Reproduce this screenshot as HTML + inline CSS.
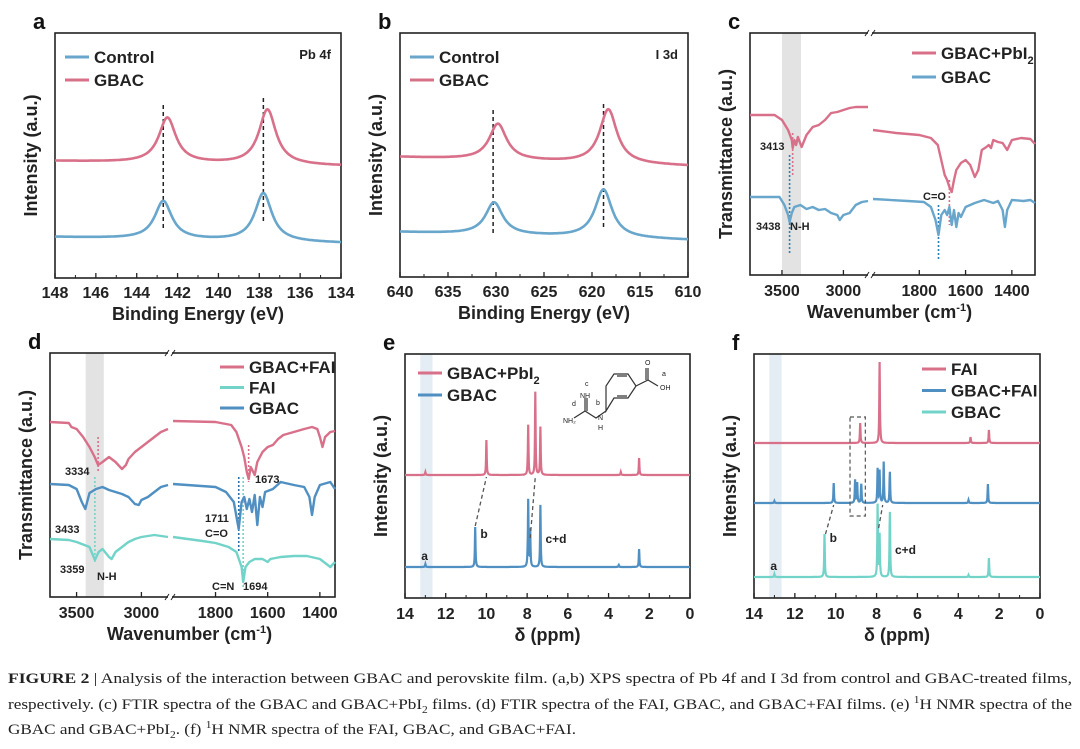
<!DOCTYPE html>
<html><head><meta charset="utf-8"><style>
body{margin:0;background:#fff;}
svg{display:block;font-family:"Liberation Sans",Arial,sans-serif;}
.tk{font-size:16px;font-weight:bold;fill:#222;text-anchor:middle;}
.at{font-size:18px;font-weight:bold;fill:#222;text-anchor:middle;}
.lg{font-size:17px;font-weight:bold;fill:#222;}
.pl{font-size:22px;font-weight:bold;fill:#111;}
.an{font-size:11px;font-weight:bold;fill:#222;}
.cap{font-family:"Liberation Serif",serif;font-size:15px;fill:#222;}
</style></head><body>
<svg id="fig" width="1080" height="749" viewBox="0 0 1080 749">
<g id="caption">
<text class="cap" x="8" y="683" textLength="1064" lengthAdjust="spacingAndGlyphs"><tspan font-weight="bold">FIGURE 2</tspan> | Analysis of the interaction between GBAC and perovskite film. (a,b) XPS spectra of Pb 4f and I 3d from control and GBAC-treated films,</text>
<text class="cap" x="8" y="709" textLength="1064" lengthAdjust="spacingAndGlyphs">respectively. (c) FTIR spectra of the GBAC and GBAC+PbI<tspan font-size="10" dy="4">2</tspan><tspan dy="-4"> films. (d) FTIR spectra of the FAI, GBAC, and GBAC+FAI films. (e) </tspan><tspan font-size="10" dy="-6">1</tspan><tspan dy="6">H NMR spectra of the</tspan></text>
<text class="cap" x="8" y="734" textLength="568" lengthAdjust="spacingAndGlyphs">GBAC and GBAC+PbI<tspan font-size="10" dy="4">2</tspan><tspan dy="-4">. (f) </tspan><tspan font-size="10" dy="-6">1</tspan><tspan dy="6">H NMR spectra of the FAI, GBAC, and GBAC+FAI.</tspan></text>
</g>
</svg>
<script>
const NS="http://www.w3.org/2000/svg";
const svg=document.getElementById('fig');
const RED="#d9708a", BLUE="#68a6cc", DBLUE="#4f8fc2", CYAN="#72d3c9";

// ---------- DATA ----------
const aControlPeaks=[[142.7,38],[137.8,48]];
const aGbacPeaks=[[142.5,45],[137.6,55]];
const aBaseline={control:[41,35],gbac:[117,112]};
const aTicks=[148,146,144,142,140,138,136,134];
const aDashes=[142.7,137.8];
const bControlPeaks=[[630.2,32],[618.8,48]];
const bGbacPeaks=[[629.8,36],[618.3,54]];
const bBaseline={control:[45,37],gbac:[120,111]};
const bTicks=[640,635,630,625,620,615,610];
const bDashes=[630.3,618.8];
const cWnLeft=[3760,3560,3500,3450,3420,3413,3400,3385,3370,3340,3300,3250,3200,3150,3100,3050,3000,2950,2900,2800];
const cRedLeft=[160,160,155,145,135,127,135,130,138,128,140,148,150,155,162,163,165,167,168,168];
const cBlueLeftWn=[3760,3520,3480,3450,3438,3420,3400,3350,3300,3250,3200,3150,3100,3050,3030,3000,2950,2900,2850,2800];
const cBlueLeft=[78,78,70,60,53,62,68,70,66,68,65,66,62,60,55,60,62,70,73,74];
const cRedRightWn=[2000,1900,1800,1750,1720,1700,1690,1680,1670,1660,1650,1640,1620,1600,1580,1560,1545,1530,1510,1500,1490,1480,1460,1440,1420,1410,1400,1360,1320,1300];
const cRedRight=[145,142,140,137,130,110,100,95,88,83,95,105,112,115,110,98,105,125,128,130,127,135,133,132,125,130,135,137,136,131];
const cBlueRightWn=[2000,1850,1780,1750,1730,1717,1705,1690,1680,1670,1660,1650,1640,1630,1620,1600,1560,1520,1480,1460,1440,1430,1420,1400,1350,1320,1300];
const cBlueRight=[76,74,73,68,55,40,60,65,60,68,50,65,48,62,58,68,72,75,72,74,65,48,65,75,74,75,72];
const dRedLWn=[3705,3560,3540,3500,3450,3400,3360,3334,3300,3250,3200,3150,3120,3100,3050,3000,2950,2900,2850,2795];
const dRedL=[175,174,170,168,160,150,140,132,135,140,135,128,132,138,145,150,155,160,165,168];
const dRedRWn=[1963,1800,1740,1720,1700,1690,1680,1673,1665,1650,1640,1620,1600,1580,1560,1540,1500,1460,1430,1410,1400,1390,1380,1360,1342];
const dRedR=[176,175,172,165,150,140,125,118,130,122,135,145,150,152,158,162,165,168,170,168,160,150,160,165,166];
const dBlueLWn=[3705,3560,3500,3460,3433,3400,3350,3300,3250,3200,3150,3100,3050,3020,3000,2950,2900,2850,2795];
const dBlueL=[113,112,108,95,88,104,108,110,107,105,103,100,93,92,97,100,105,110,112];
const dBlueRWn=[1963,1800,1760,1730,1711,1700,1690,1680,1670,1660,1650,1640,1630,1620,1610,1580,1550,1500,1460,1440,1430,1420,1400,1360,1342];
const dBlueR=[113,110,105,95,68,95,100,88,98,85,102,72,100,90,105,108,115,112,110,100,82,100,112,115,108];
const dCyanLWn=[3705,3560,3500,3400,3359,3330,3300,3250,3230,3200,3150,3100,3050,3000,2900,2795];
const dCyanL=[58,57,55,50,37,45,48,40,38,45,50,55,58,60,62,60];
const dCyanRWn=[1963,1850,1800,1750,1720,1700,1694,1685,1670,1650,1620,1600,1590,1550,1500,1450,1400,1360,1342];
const dCyanR=[60,56,54,50,45,30,15,30,35,38,38,35,38,40,41,41,38,30,35];
const ePbPeaks=[[13.0,3],[10.0,35],[7.95,50],[7.6,83],[7.35,48],[3.4,3],[2.5,17]];
const eGbacPeaks=[[13.0,3],[10.55,40],[7.95,67],[7.85,37],[7.35,62],[3.5,2],[2.5,18]];
const eBase={pb:123,gbac:31};
const fFaiPeaks=[[8.8,20],[7.85,81],[3.4,6],[2.5,13]];
const fMixPeaks=[[13.0,2],[10.1,20],[9.05,23],[8.95,20],[8.75,19],[7.95,34],[7.85,32],[7.65,41],[7.35,31],[3.5,3],[2.55,19]];
const fGbacPeaks=[[13.0,3],[10.55,43],[7.95,72],[7.85,42],[7.35,65],[3.5,2],[2.5,19]];
const fBase={fai:155,mix:95,gbac:21};
const nmrTicks=[14,12,10,8,6,4,2,0];

// ---------- HELPERS ----------
function el(tag,attrs,parent){const e=document.createElementNS(NS,tag);for(const k in attrs)e.setAttribute(k,attrs[k]);(parent||svg).appendChild(e);return e;}
function txt(s,x,y,cls,parent,extra){const t=el('text',Object.assign({x:x,y:y,class:cls},extra||{}),parent);t.textContent=s;return t;}
function lin(d0,d1,r0,r1){return v=>r0+(v-d0)*(r1-r0)/(d1-d0);}
function pathFrom(pts){return pts.map((p,i)=>(i?'L':'M')+p[0].toFixed(1)+' '+p[1].toFixed(1)).join(' ');}
function lorentz(x,peaks,w){let s=0;for(const p of peaks)s+=p[1]/(1+((x-p[0])/w)**2);return s;}

function frame(g,x0,y0,x1,y1,breakX){
  el('rect',{x:x0,y:y0,width:x1-x0,height:y1-y0,fill:'none',stroke:'#222','stroke-width':1.6},g);
  if(breakX!==undefined){
    for(const yy of [y0,y1]){
      el('rect',{x:breakX-2,y:yy-3,width:4,height:6,fill:'#fff'},g);
      el('path',{d:`M${breakX-5} ${yy+3} L${breakX-1} ${yy-3} M${breakX+1} ${yy+3} L${breakX+5} ${yy-3}`,stroke:'#222','stroke-width':1},g);
    }
  }
}
function legend(g,items,x,y,dy,len){
  items.forEach((it,i)=>{
    const li=el('g',{},g);
    
    
    el('line',{x1:x,y1:y+i*dy,x2:x+len,y2:y+i*dy,stroke:it[1],'stroke-width':3},li);
    const t=txt('',x+len+5,y+i*dy+6,'lg',li);
    if(it[0].endsWith('PbI2')){t.textContent=it[0].slice(0,-1);const s=el('tspan',{'font-size':11,dy:5},t);s.textContent='2';}
    else t.textContent=it[0];
  });
}
function yTitle(g,s,x,yc){txt(s,x,yc,'at',g,{transform:`rotate(-90 ${x} ${yc})`});}

// ---------- XPS panels ----------
function xps(o){
  const g=el('g',{});
  const X=lin(o.dom[0],o.dom[1],o.x0,o.x1), Y=lin(0,o.y1-o.y0,o.y1,o.y0);
  frame(g,o.x0,o.y0,o.x1,o.y1);
  o.ticks.forEach((t,i)=>{const x=X(t);el('line',{x1:x,y1:o.y1,x2:x,y2:o.y1-5,stroke:'#222','stroke-width':1.3},g);
    if(i<o.ticks.length-1){const xm=X((t+o.ticks[i+1])/2);el('line',{x1:xm,y1:o.y1,x2:xm,y2:o.y1-3,stroke:'#222','stroke-width':1},g);}
    txt(String(t),x,o.y1+20,'tk',g);});
  txt('Binding Energy (eV)',(o.x0+o.x1)/2,o.y1+42,'at',g);
  yTitle(g,'Intensity (a.u.)',o.x0-18,(o.y0+o.y1)/2);
  txt(o.letter,o.x0-22,o.y0-4,'pl',g);
  txt(o.label,o.x1-10,o.y0+26,'an',g,{'text-anchor':'end',style:'font-size:13px'});
  const w=Math.abs(o.dom[1]-o.dom[0])*0.036;
  const series=[['control',o.cPeaks,BLUE,o.base.control],['gbac',o.gPeaks,RED,o.base.gbac]];
  o.dashes.forEach((d,i)=>{el('line',{x1:X(d),x2:X(d),y1:o.y0+o.dashTop[i],y2:o.y0+o.dashTop[i]+125,stroke:'#222','stroke-width':1.5,'stroke-dasharray':'4 3'},g);});
  for(const s of series){
    const pts=[];for(let i=0;i<=300;i++){const v=o.dom[0]+(o.dom[1]-o.dom[0])*i/300;const b=s[3][0]+(s[3][1]-s[3][0])*i/300;pts.push([X(v),Y(b+lorentz(v,s[1],w))]);}
    const p=el('path',{d:pathFrom(pts),fill:'none',stroke:s[2],'stroke-width':2.6},g);
    
  }
  legend(g,[['Control',BLUE],['GBAC',RED]],o.lgx,o.y0+24,23,24);
}
xps({name:'panel-a-pb4f',x0:55,x1:341,y0:33,y1:278,dom:[148,134],ticks:aTicks,cPeaks:aControlPeaks,gPeaks:aGbacPeaks,base:aBaseline,dashes:aDashes,dashTop:[72,65],letter:'a',label:'Pb 4f',lgx:65});
xps({name:'panel-b-i3d',x0:400,x1:688,y0:33,y1:277,dom:[640,610],ticks:bTicks,cPeaks:bControlPeaks,gPeaks:bGbacPeaks,base:bBaseline,dashes:bDashes,dashTop:[77,71],letter:'b',label:'I 3d',lgx:410});

// ---------- FTIR panels ----------
function ftir(o){
  const g=el('g',{});
  const XL=lin(o.left[0],o.left[1],o.x0,o.bx-2), XR=lin(o.right[0],o.right[1],o.bx+3,o.x1), Y=lin(0,o.y1-o.y0,o.y1,o.y0);
  el('rect',{x:XL(o.band[0]),y:o.y0,width:XL(o.band[1])-XL(o.band[0]),height:o.y1-o.y0,fill:'#e3e3e3'},g);
  frame(g,o.x0,o.y0,o.x1,o.y1,o.bx);
  for(const t of [3500,3000]){const x=XL(t);el('line',{x1:x,y1:o.y1,x2:x,y2:o.y1-5,stroke:'#222','stroke-width':1.3},g);txt(String(t),x,o.y1+21,'tk',g);}
  for(const t of [1800,1600,1400]){const x=XR(t);el('line',{x1:x,y1:o.y1,x2:x,y2:o.y1-5,stroke:'#222','stroke-width':1.3},g);txt(String(t),x,o.y1+21,'tk',g);}
  const xt=txt('Wavenumber (cm',(o.x0+o.x1)/2-3,o.y1+43,'at',g);const sup=el('tspan',{'font-size':11,dy:-7},xt);sup.textContent='-1';const cl=el('tspan',{dy:7},xt);cl.textContent=')';
  yTitle(g,'Transmittance (a.u.)',o.x0-18,(o.y0+o.y1)/2);
  txt(o.letter,o.x0-22,o.y0-4,'pl',g);
  for(const d of o.dashes){const X=d[0]>2500?XL:XR;el('line',{x1:X(d[0]),x2:X(d[0]),y1:Y(d[1]),y2:Y(d[2]),stroke:d[3],'stroke-width':1.6,'stroke-dasharray':'2 2'},g);}
  for(const s of o.series){
    const p1=s.lwn.map((w,i)=>[XL(w),Y(s.lv[i])]), p2=s.rwn.map((w,i)=>[XR(w),Y(s.rv[i])]);
    const p=el('path',{d:pathFrom(p1)+' '+pathFrom(p2),fill:'none',stroke:s.c,'stroke-width':2.4,'stroke-linejoin':'round'},g);
    
  }
  for(const a of o.ann)txt(a[0],a[1],a[2],'an',g);
  legend(g,o.legend,o.lgx,o.lgy,o.lgdy,24);
}
ftir({name:'panel-c-ftir',x0:750,x1:1035,y0:33,y1:275,bx:870,left:[3760,2800],right:[2000,1300],band:[3500,3345],letter:'c',
 series:[{n:'gbac-pbi2',c:RED,lwn:cWnLeft,lv:cRedLeft,rwn:cRedRightWn,rv:cRedRight},{n:'gbac',c:BLUE,lwn:cBlueLeftWn,lv:cBlueLeft,rwn:cBlueRightWn,rv:cBlueRight}],
 dashes:[[3413,142,100,RED],[3438,120,20,'#2a7fb8'],[1670,95,50,RED],[1717,70,15,'#2a7fb8']],
 ann:[['3413',760,150],['3438',756,230],['N-H',790,230],['C=O',923,200]],
 legend:[['GBAC+PbI2',RED],['GBAC',BLUE]],lgx:912,lgy:53,lgdy:24});
ftir({name:'panel-d-ftir',x0:50,x1:335,y0:353,y1:597,bx:170,left:[3705,2795],right:[1963,1342],band:[3430,3290],letter:'d',
 series:[{n:'gbac-fai',c:RED,lwn:dRedLWn,lv:dRedL,rwn:dRedRWn,rv:dRedR},{n:'gbac',c:DBLUE,lwn:dBlueLWn,lv:dBlueL,rwn:dBlueRWn,rv:dBlueR},{n:'fai',c:CYAN,lwn:dCyanLWn,lv:dCyanL,rwn:dCyanRWn,rv:dCyanR}],
 dashes:[[3334,160,125,RED],[3359,120,35,CYAN],[1673,152,115,RED],[1711,120,45,'#2a6fa8'],[1694,120,10,CYAN]],
 ann:[['3334',65,475],['3433',55,533],['3359',60,573],['N-H',97,580],['1673',255,483],['1711',205,522],['C=O',205,537],['C=N',212,590],['1694',243,590]],
 legend:[['GBAC+FAI',RED],['FAI',CYAN],['GBAC',DBLUE]],lgx:220,lgy:367,lgdy:20.5});

// ---------- NMR panels ----------
function nmr(o){
  const g=el('g',{});
  const X=lin(14,0,o.x0,o.x1), Y=lin(0,o.y1-o.y0,o.y1,o.y0);
  el('rect',{x:X(13.25),y:o.y0,width:X(12.65)-X(13.25),height:o.y1-o.y0,fill:'#e4ecf4'},g);
  frame(g,o.x0,o.y0,o.x1,o.y1);
  nmrTicks.forEach((t,i)=>{const x=X(t);el('line',{x1:x,y1:o.y1,x2:x,y2:o.y1-5,stroke:'#222','stroke-width':1.3},g);
    if(i<nmrTicks.length-1){const xm=X(t-1);el('line',{x1:xm,y1:o.y1,x2:xm,y2:o.y1-3,stroke:'#222','stroke-width':1},g);}
    txt(String(t),x,o.y1+21,'tk',g);});
  txt('\u03b4 (ppm)',(o.x0+o.x1)/2,o.y1+43,'at',g);
  yTitle(g,'Intensity (a.u.)',o.x0-18,(o.y0+o.y1)/2);
  txt(o.letter,o.x0-22,o.y0-4,'pl',g);
  for(const s of o.series){
    const pts=[];for(let i=0;i<=1400;i++){const v=14-14*i/1400;pts.push([X(v),Y(s.b+lorentz(v,s.p,0.018))]);}
    const p=el('path',{d:pathFrom(pts),fill:'none',stroke:s.c,'stroke-width':2.2},g);
    
  }
  for(const d of o.arrows)el('line',{x1:X(d[0]),y1:Y(d[1]),x2:X(d[2]),y2:Y(d[3]),stroke:'#555','stroke-width':1.3,'stroke-dasharray':'4 3'},g);
  for(const a of o.ann)txt(a[0],X(a[1]),Y(a[2]),'an',g,{style:'font-size:12px'});
  legend(g,o.legend,o.lgx,o.lgy,o.lgdy,24);
  return {g,X,Y};
}
const e=nmr({name:'panel-e-nmr',x0:405,x1:690,y0:354,y1:598,letter:'e',
 series:[{n:'gbac-pbi2',c:RED,b:eBase.pb,p:ePbPeaks},{n:'gbac',c:DBLUE,b:eBase.gbac,p:eGbacPeaks}],
 arrows:[[10.55,72,10.0,121],[7.85,60,7.6,121]],
 ann:[['a',13.2,38],['b',10.3,60],['c+d',7.1,55]],
 legend:[['GBAC+PbI2',RED],['GBAC',DBLUE]],lgx:418,lgy:373,lgdy:22});
(function(){const g=el('g',{},e.g);
 const st={stroke:'#333','stroke-width':1.2,fill:'none'};
 el('path',Object.assign({d:'M574 418 L585 411 L585 398 M585 411 L596 418 L606 411 M587 398 L587 411 M606 411 L614 398 L628 398 L636 386 L628 374 L614 374 L606 386 Z M617 396 L627 396 M617 376 L627 376 M636 386 L648 380 L648 368 M646 368 L646 380 M648 380 L658 386'},st),g);
 for(const a of [['d',572,406],['NH\u2082',563,423],['c',585,386],['NH',580,398],['b',596,405],['N',598,420],['H',598,430],['O',645,365],['a',662,376],['OH',660,390]])
  txt(a[0],a[1],a[2],'an',g,{style:'font-size:7px;font-weight:normal'});
})();
const f=nmr({name:'panel-f-nmr',x0:754,x1:1040,y0:354,y1:598,letter:'f',
 series:[{n:'fai',c:RED,b:fBase.fai,p:fFaiPeaks},{n:'gbac-fai',c:DBLUE,b:fBase.mix,p:fMixPeaks},{n:'gbac',c:CYAN,b:fBase.gbac,p:fGbacPeaks}],
 arrows:[[10.5,64,10.1,93],[7.9,70,7.7,93]],
 ann:[['a',13.2,28],['b',10.3,56],['c+d',7.1,44]],
 legend:[['FAI',RED],['GBAC+FAI',DBLUE],['GBAC',CYAN]],lgx:922,lgy:369,lgdy:21.5});
(function(){const r=el('rect',{x:f.X(9.3),y:417,width:f.X(8.55)-f.X(9.3),height:99,fill:'none',stroke:'#555','stroke-width':1.2,'stroke-dasharray':'4 3'},f.g);
 })();
</script>
</body></html>
